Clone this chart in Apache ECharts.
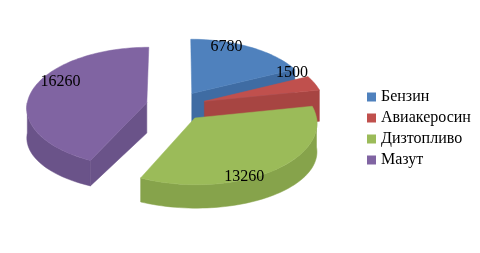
<!DOCTYPE html>
<html><head><meta charset="utf-8">
<script src="https://cdn.jsdelivr.net/npm/echarts@6/dist/echarts.min.js"></script>
<style>html,body{margin:0;padding:0;background:#fff}#c{width:480px;height:253px}</style>
</head><body><div id="c"></div>
<script>
// ---- data ----
const categories = ['Бензин', 'Авиакеросин', 'Дизтопливо', 'Мазут'];
const values = [6780, 1500, 13260, 16260];

// ---- styles ----
const topColors = ['#4F81BD', '#C0504D', '#9BBB59', '#8064A2'];
const sideColors = ['#3F6CA3', '#A74542', '#86A34B', '#6A5389'];
const labelShift = [[-7, -14], [10, -16], [-6, 23], [-6, -12]];
const drawOrder = [0, 1, 3, 2];
const G = { cx: 176, cy: 106, R: 120, k: 0.5, D: 1640, explode: 30, h0: 30, hA: 0.06, labelF: 0.7 };
const FONT = 'Liberation Serif, Times New Roman, serif';

const total = values.reduce((a, b) => a + b, 0);
const starts = [];
{ let acc = 0; values.forEach(v => { starts.push(acc / total * 360); acc += v; }); }

function proj(X, Z, drop) {
  const s = 1 / (1 - Z / G.D);
  const h = drop ? (G.h0 - G.hA * Z) : 0;
  return [G.cx + X * s, G.cy + (Z * G.k + h) * s];
}
const rad = d => d * Math.PI / 180;

function slice(i) {
  const a0 = starts[i], a1 = starts[i] + values[i] / total * 360, mid = (a0 + a1) / 2;
  const ox = G.explode * Math.sin(rad(mid)), oz = -G.explode * Math.cos(rad(mid));
  const pt = (a, r, drop) => proj(ox + r * Math.sin(rad(a)), oz - r * Math.cos(rad(a)), drop);
  const arc = (b0, b1, drop) => {
    const out = []; const n = Math.max(2, Math.ceil((b1 - b0) / 2));
    for (let j = 0; j <= n; j++) out.push(pt(b0 + (b1 - b0) * j / n, G.R, drop));
    return out;
  };
  const children = [];
  const side = { fill: sideColors[i], stroke: sideColors[i], lineWidth: 0.5 };
  if (Math.sin(rad(a0)) < 0) children.push({ type: 'polygon', shape: { points: [pt(a0, 0, false), pt(a0, G.R, false), pt(a0, G.R, true), pt(a0, 0, true)] }, style: side });
  if (Math.sin(rad(a1)) > 0.01) children.push({ type: 'polygon', shape: { points: [pt(a1, 0, false), pt(a1, G.R, false), pt(a1, G.R, true), pt(a1, 0, true)] }, style: side });
  const w0 = Math.max(a0, 90), w1 = Math.min(a1, 270);
  if (w1 > w0) children.push({ type: 'polygon', shape: { points: arc(w0, w1, false).concat(arc(w0, w1, true).reverse()) }, style: side });
  children.push({ type: 'polygon', shape: { points: [pt(a0, 0, false)].concat(arc(a0, a1, false)) }, style: { fill: topColors[i], stroke: topColors[i], lineWidth: 0.5 } });
  const lp = pt(mid, G.R * G.labelF, false);
  children.push({ type: 'text', z2: 10, style: { text: String(values[i]), x: lp[0] + labelShift[i][0], y: lp[1] + labelShift[i][1], align: 'center', verticalAlign: 'middle', font: '16px ' + FONT, fill: '#000' } });
  return { type: 'group', children };
}

const series = drawOrder.map(i => ({
  type: 'custom', name: categories[i], coordinateSystem: 'none', silent: true,
  itemStyle: { color: topColors[i] },
  data: [[values[i]]],
  renderItem: () => slice(i)
}));

const chart = echarts.init(document.getElementById('c'), null, { renderer: 'canvas' });
chart.setOption({
  animation: false,
  color: topColors,
  legend: {
    data: categories, orient: 'vertical', left: 362, top: 84,
    itemWidth: 9, itemHeight: 9, itemGap: 5, icon: 'rect', selectedMode: false,
    textStyle: { fontFamily: FONT, fontSize: 16, color: '#000', lineHeight: 16 }
  },
  series
});
</script></body></html>
